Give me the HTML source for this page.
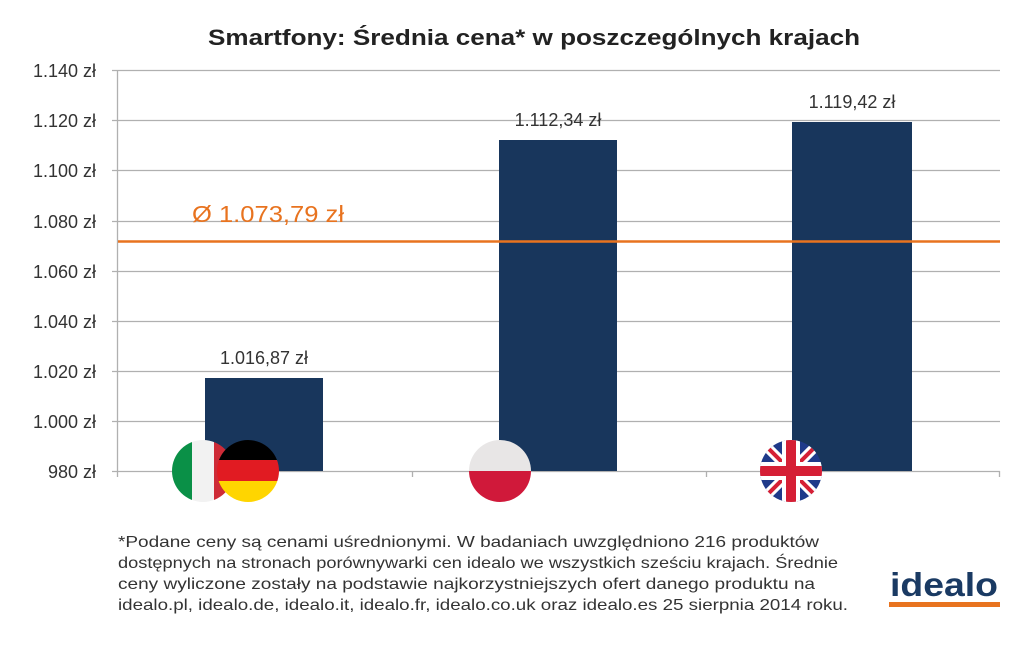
<!DOCTYPE html>
<html><head><meta charset="utf-8"><style>
body{margin:0;width:1024px;height:641px;background:#fff;overflow:hidden;font-family:"Liberation Sans","DejaVu Sans",sans-serif}
</style></head><body>
<svg width="1024" height="641" viewBox="0 0 1024 641" xmlns="http://www.w3.org/2000/svg" font-family="Liberation Sans, DejaVu Sans, sans-serif">
<text x="208" y="45" font-size="22" font-weight="bold" fill="#222" textLength="652" lengthAdjust="spacingAndGlyphs">Smartfony: Średnia cena* w poszczególnych krajach</text>
<g stroke="#b0b0b0" stroke-width="1.3">
<line x1="112" y1="70.5" x2="1000" y2="70.5"/>
<line x1="112" y1="120.5" x2="1000" y2="120.5"/>
<line x1="112" y1="170.5" x2="1000" y2="170.5"/>
<line x1="112" y1="221.5" x2="1000" y2="221.5"/>
<line x1="112" y1="271.5" x2="1000" y2="271.5"/>
<line x1="112" y1="321.5" x2="1000" y2="321.5"/>
<line x1="112" y1="371.5" x2="1000" y2="371.5"/>
<line x1="112" y1="421.5" x2="1000" y2="421.5"/>
<line x1="112" y1="471.5" x2="1000" y2="471.5"/>
<line x1="117.5" y1="70" x2="117.5" y2="477"/>
<line x1="412.5" y1="471" x2="412.5" y2="477"/>
<line x1="706.5" y1="471" x2="706.5" y2="477"/>
<line x1="999.5" y1="471" x2="999.5" y2="477"/>
</g>
<g font-size="18" fill="#333" text-anchor="end">
<text x="96" y="77">1.140 zł</text><text x="96" y="127">1.120 zł</text><text x="96" y="177">1.100 zł</text>
<text x="96" y="228">1.080 zł</text><text x="96" y="278">1.060 zł</text><text x="96" y="328">1.040 zł</text>
<text x="96" y="378">1.020 zł</text><text x="96" y="428">1.000 zł</text><text x="96" y="478">980 zł</text>
</g>
<g fill="#18365c">
<rect x="205" y="378" width="118" height="93"/>
<rect x="499" y="140" width="118" height="331"/>
<rect x="792" y="122" width="120" height="349"/>
</g>
<g font-size="18" fill="#333" text-anchor="middle">
<text x="264" y="364">1.016,87 zł</text>
<text x="558" y="126">1.112,34 zł</text>
<text x="852" y="108">1.119,42 zł</text>
</g>
<line x1="118" y1="241.5" x2="1000" y2="241.5" stroke="#e8731f" stroke-width="2.5"/>
<text x="192" y="222" font-size="23" fill="#e8731f" textLength="152" lengthAdjust="spacingAndGlyphs">Ø 1.073,79 zł</text>
<defs>
<clipPath id="it"><ellipse cx="203" cy="471" rx="31" ry="31"/></clipPath>
<clipPath id="de"><ellipse cx="248" cy="471" rx="31" ry="31"/></clipPath>
<clipPath id="pl"><ellipse cx="500" cy="471" rx="31" ry="31"/></clipPath>
<clipPath id="uk"><ellipse cx="791" cy="471" rx="31" ry="31"/></clipPath>
</defs>
<g clip-path="url(#it)"><rect x="170" y="438" width="22" height="66" fill="#0a9047"/><rect x="192" y="438" width="22" height="66" fill="#f2f2f2"/><rect x="214" y="438" width="22" height="66" fill="#ce2b37"/></g>
<g clip-path="url(#de)"><rect x="215" y="438" width="66" height="22" fill="#000"/><rect x="215" y="460" width="66" height="21" fill="#e11b22"/><rect x="215" y="481" width="66" height="22" fill="#ffd500"/></g>
<g clip-path="url(#pl)"><rect x="468" y="438" width="66" height="33" fill="#e8e6e6"/><rect x="468" y="471" width="66" height="33" fill="#d0193a"/></g>
<g clip-path="url(#uk)"><rect x="758" y="438" width="66" height="66" fill="#1f3a8a"/>
<line x1="758" y1="438" x2="824" y2="504" stroke="#fff" stroke-width="10"/><line x1="824" y1="438" x2="758" y2="504" stroke="#fff" stroke-width="10"/>
<line x1="758" y1="438" x2="824" y2="504" stroke="#d51f35" stroke-width="4"/><line x1="824" y1="438" x2="758" y2="504" stroke="#d51f35" stroke-width="4"/>
<rect x="758" y="462" width="66" height="18" fill="#fff"/><rect x="782" y="438" width="18" height="66" fill="#fff"/>
<rect x="758" y="466" width="66" height="10" fill="#d51f35"/><rect x="786" y="438" width="10" height="66" fill="#d51f35"/></g>
<g font-size="16" fill="#333" lengthAdjust="spacingAndGlyphs">
<text x="118" y="547" textLength="701" lengthAdjust="spacingAndGlyphs">*Podane ceny są cenami uśrednionymi. W badaniach uwzględniono 216 produktów</text>
<text x="118" y="568" textLength="720" lengthAdjust="spacingAndGlyphs">dostępnych na stronach porównywarki cen idealo we wszystkich sześciu krajach. Średnie</text>
<text x="118" y="589" textLength="697" lengthAdjust="spacingAndGlyphs">ceny wyliczone zostały na podstawie najkorzystniejszych ofert danego produktu na</text>
<text x="118" y="610" textLength="730" lengthAdjust="spacingAndGlyphs">idealo.pl, idealo.de, idealo.it, idealo.fr, idealo.co.uk oraz idealo.es 25 sierpnia 2014 roku.</text>
</g>
<text x="890" y="596" font-size="33" font-weight="bold" fill="#1a3a63" textLength="108" lengthAdjust="spacingAndGlyphs">idealo</text>
<rect x="889" y="602" width="111" height="5" fill="#e8731f"/>
</svg>
</body></html>
